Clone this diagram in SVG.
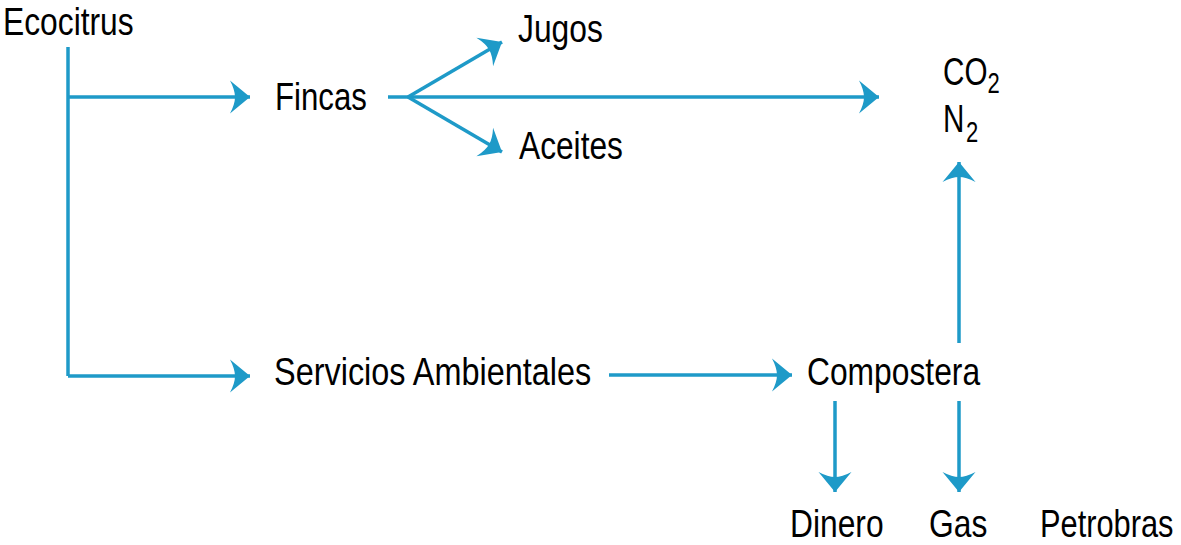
<svg xmlns="http://www.w3.org/2000/svg" width="1181" height="545" viewBox="0 0 1181 545">
<style>
  .t { font-family: "Liberation Sans", Arial, sans-serif; font-size: 39px; fill: #000; }
  .sub { font-size: 29px; }
  .c { fill: none; stroke: #1e9ac8; stroke-width: 3.5; }
</style>
<defs>
  <marker id="ah" markerUnits="userSpaceOnUse" markerWidth="24" markerHeight="36" viewBox="-21 -18 22 36" refX="0" refY="0" orient="auto">
    <path d="M0,0 L-20,-16.5 Q-15,-7 -15,0 Q-15,7 -20,16.5 Z" fill="#1e9ac8"/>
  </marker>
</defs>
<rect width="1181" height="545" fill="#fff"/>
<g id="connectors">
  <path class="c" d="M68,47 V376"/>
  <path class="c" d="M68,97 H250" marker-end="url(#ah)"/>
  <path class="c" d="M68,376 H250" marker-end="url(#ah)"/>
  <path class="c" d="M388,97 H879" marker-end="url(#ah)"/>
  <path class="c" d="M408,97 L502,42" marker-end="url(#ah)"/>
  <path class="c" d="M408,97 L502,152" marker-end="url(#ah)"/>
  <path class="c" d="M609,375 H792" marker-end="url(#ah)"/>
  <path class="c" d="M959,343 V162" marker-end="url(#ah)"/>
  <path class="c" d="M835,401 V492" marker-end="url(#ah)"/>
  <path class="c" d="M959,401 V492" marker-end="url(#ah)"/>
</g>
<g id="ecocitrus"><text class="t" transform="translate(3,35) scale(0.815,1)">Ecocitrus</text></g>
<g id="fincas"><text class="t" transform="translate(275,110) scale(0.8,1)">Fincas</text></g>
<g id="jugos"><text class="t" transform="translate(518,42) scale(0.815,1)">Jugos</text></g>
<g id="aceites"><text class="t" transform="translate(519,159) scale(0.813,1)">Aceites</text></g>
<g id="gases">
  <text class="t" transform="translate(943,85) scale(0.76,1)"><tspan x="0" y="0">CO</tspan><tspan class="sub" dy="8">2</tspan><tspan x="0" y="47">N</tspan><tspan class="sub" dx="2" dy="10">2</tspan></text>
</g>
<g id="servicios"><text class="t" transform="translate(274,385) scale(0.832,1)">Servicios Ambientales</text></g>
<g id="compostera"><text class="t" transform="translate(807,385) scale(0.815,1)">Compostera</text></g>
<g id="dinero"><text class="t" transform="translate(790,537) scale(0.815,1)">Dinero</text></g>
<g id="gas"><text class="t" transform="translate(929,537) scale(0.815,1)">Gas</text></g>
<g id="petrobras"><text class="t" transform="translate(1040,537) scale(0.79,1)">Petrobras</text></g>
</svg>
